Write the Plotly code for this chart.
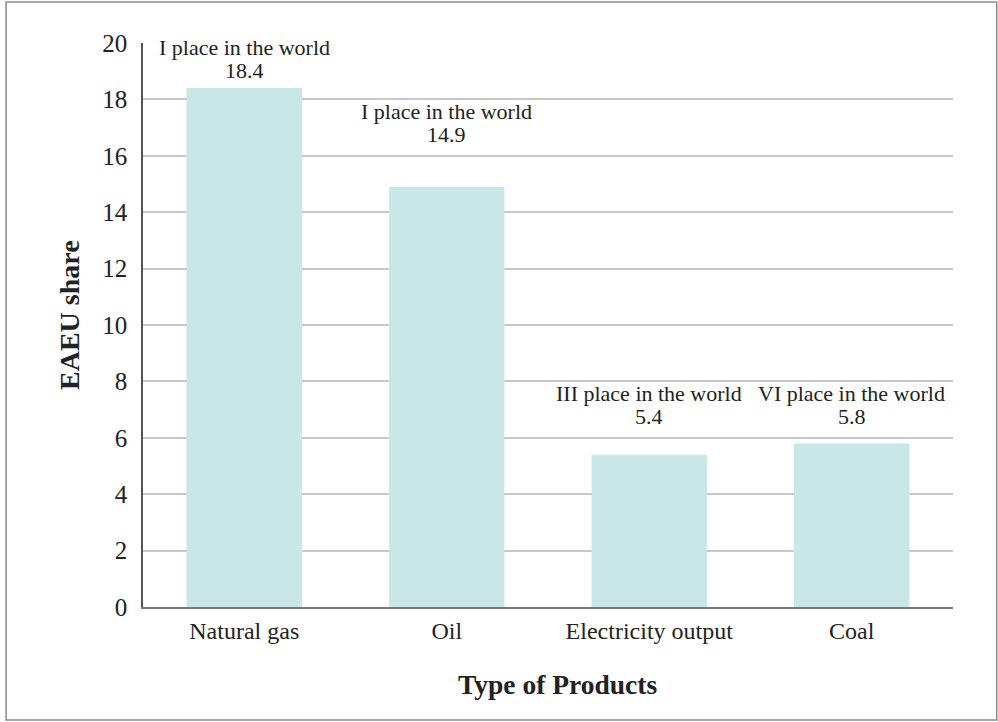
import plotly.graph_objects as go

# Data
products = ["Natural gas", "Oil", "Electricity output", "Coal"]
eaeu_share = [18.4, 14.9, 5.4, 5.8]
world_rank = ["I", "I", "III", "VI"]
# height (in axis units) at which each value label's bottom edge sits
label_base = [18.5, 16.25, 6.25, 6.25]

FONT = "Liberation Serif, Times New Roman, serif"
BAR_COLOR = "rgb(201,231,230)"
TXT = "#222"

fig = go.Figure(
    go.Bar(
        x=products,
        y=eaeu_share,
        marker=dict(color=BAR_COLOR, line=dict(width=0)),
        hoverinfo="skip",
    )
)

for prod, val, rank, base in zip(products, eaeu_share, world_rank, label_base):
    # value line
    fig.add_annotation(
        x=prod, y=base, xref="x", yref="y",
        text=f"{val}", showarrow=False, yanchor="bottom",
        font=dict(family=FONT, size=22, color=TXT),
    )
    # rank line above it
    fig.add_annotation(
        x=prod, y=base, xref="x", yref="y", yshift=23,
        text=f"{rank} place in the world", showarrow=False, yanchor="bottom",
        font=dict(family=FONT, size=22, color=TXT),
    )

# axis titles
fig.add_annotation(
    x=-0.090, y=0.518, xref="paper", yref="paper", textangle=-90,
    text="<b>EAEU share</b>", showarrow=False,
    xanchor="center", yanchor="middle",
    font=dict(family=FONT, size=28, color=TXT),
)
fig.add_annotation(
    x=0.512, y=-0.138, xref="paper", yref="paper",
    text="<b>Type of Products</b>", showarrow=False,
    xanchor="center", yanchor="middle",
    font=dict(family=FONT, size=27.5, color=TXT),
)

# outer frame
fig.add_shape(
    type="rect", xref="paper", yref="paper",
    x0=-0.169, x1=1.054, y0=-0.2004, y1=1.0727,
    line=dict(color="#8a8a8a", width=1.5), fillcolor="rgba(0,0,0,0)",
)

fig.update_layout(
    width=998, height=722,
    margin=dict(l=143, r=45, t=43, b=115),
    paper_bgcolor="white", plot_bgcolor="white",
    bargap=0.43,
    showlegend=False,
    font=dict(family=FONT, size=22, color=TXT),
    xaxis=dict(
        showline=True, linecolor="#777", linewidth=2,
        ticks="", showgrid=False,
        tickfont=dict(family=FONT, size=24, color=TXT),
        ticklabelstandoff=1,
    ),
    yaxis=dict(
        range=[0, 20], dtick=2,
        showline=True, linecolor="#555", linewidth=1.5,
        showgrid=True, gridcolor="#c8c8c8", gridwidth=1.5,
        zeroline=False, ticks="",
        tickfont=dict(family=FONT, size=25, color=TXT),
        ticklabelstandoff=9,
    ),
)

fig.write_html("out.html")
